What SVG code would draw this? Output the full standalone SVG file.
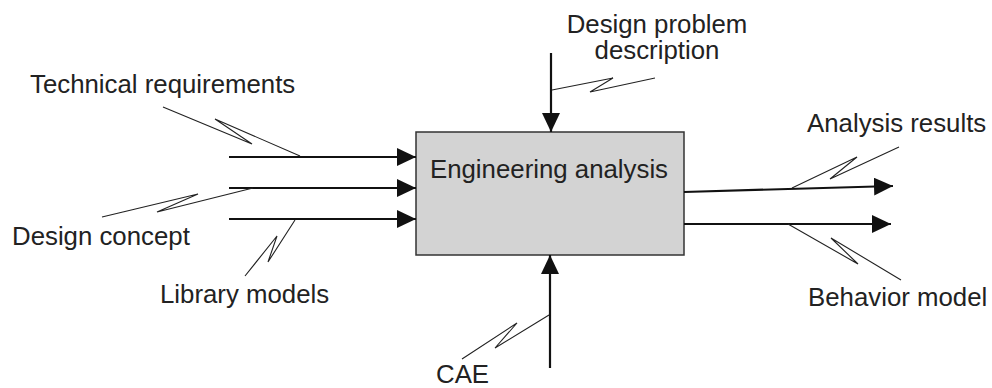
<svg xmlns="http://www.w3.org/2000/svg" width="992" height="388" viewBox="0 0 992 388">
<style>
text{font-family:"Liberation Sans",Arial,sans-serif;font-size:25.8px;fill:#222}
.arr{stroke:#111;stroke-width:2.2;fill:none;marker-end:url(#ah)}
.ld{stroke:#222;stroke-width:1.1;fill:none}
</style>
<defs>
<marker id="ah" markerWidth="20" markerHeight="18" refX="19" refY="9" orient="auto" markerUnits="userSpaceOnUse">
<path d="M0,0 L19,9 L0,18 Z" fill="#111"/>
</marker>
</defs>
<rect width="992" height="388" fill="#fff"/>
<g id="engineering-analysis">
<rect x="416" y="132" width="268" height="123" fill="#d3d3d3" stroke="#333" stroke-width="1.5"/>
<text x="549" y="178" text-anchor="middle">Engineering analysis</text>
</g>
<g id="technical-requirements"><text x="30" y="93">Technical requirements</text></g>
<g id="design-concept"><text x="12" y="245">Design concept</text></g>
<g id="library-models"><text x="160" y="303">Library models</text></g>
<g id="design-problem-description"><text x="657" y="33" text-anchor="middle">Design problem</text><text x="657" y="59" text-anchor="middle">description</text></g>
<g id="analysis-results"><text x="807" y="132">Analysis results</text></g>
<g id="behavior-model"><text x="808" y="306">Behavior model</text></g>
<g id="cae"><text x="436" y="383">CAE</text></g>
<g id="connectors">
<line class="arr" x1="229" y1="157" x2="416" y2="157"/>
<line class="arr" x1="229" y1="188" x2="416" y2="188"/>
<line class="arr" x1="229" y1="219" x2="416" y2="219"/>
<line class="arr" x1="551" y1="53" x2="551" y2="132"/>
<line class="arr" x1="550" y1="368" x2="550" y2="255"/>
<line class="arr" x1="684" y1="192" x2="893" y2="186"/>
<line class="arr" x1="684" y1="224" x2="891" y2="224"/>
<polyline class="ld" points="163,107 252,144 215,119 300,156"/>
<polyline class="ld" points="102,217 198,194 157,212 253,188"/>
<polyline class="ld" points="245,276 277,236 268,262 295,220"/>
<polyline class="ld" points="552,90 613,78 590,92 655,78"/>
<polyline class="ld" points="462,359 517,323 495,348 549,315"/>
<polyline class="ld" points="792,188 857,157 830,179 899,147"/>
<polyline class="ld" points="788,224 858,264 831,238 901,280"/>
</g>
</svg>
